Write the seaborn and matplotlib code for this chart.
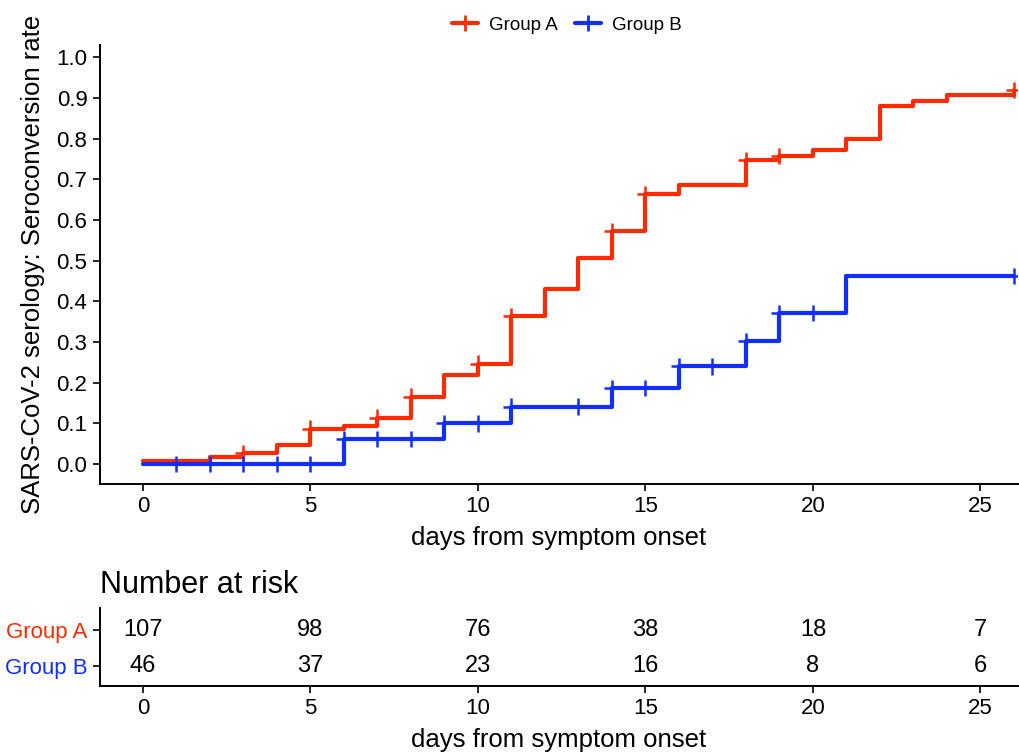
import numpy as np
import pandas as pd
import matplotlib
matplotlib.use("Agg")
import matplotlib.pyplot as plt
from matplotlib.lines import Line2D
import seaborn as sns

# ---------------- data ----------------
groups = ["Group A", "Group B"]
colors = ["#FF2A00", "#0F2EFF"]

time_a = [0, 2, 3, 4, 5, 6, 7, 8, 9, 10, 11, 12, 13, 14, 15, 16, 18, 19, 20, 21, 22, 23, 24, 26]
rate_a = [0.007, 0.018, 0.026, 0.047, 0.087, 0.094, 0.114, 0.166, 0.220, 0.247, 0.364, 0.430,
          0.506, 0.572, 0.663, 0.686, 0.747, 0.757, 0.773, 0.799, 0.880, 0.892, 0.907, 0.919]
cens_a = [3, 5, 7, 8, 10, 11, 14, 15, 18, 19, 26]

time_b = [0, 6, 9, 11, 14, 16, 18, 19, 21, 26]
rate_b = [0.0, 0.061, 0.100, 0.141, 0.187, 0.240, 0.302, 0.371, 0.462, 0.462]
cens_b = [1, 2, 3, 4, 5, 6, 7, 8, 9, 10, 11, 13, 14, 15, 16, 17, 18, 19, 20, 26]

risk_times = [0, 5, 10, 15, 20, 25]
risk_a = [107, 98, 76, 38, 18, 7]
risk_b = [46, 37, 23, 16, 8, 6]

y_ticks = [0.0, 0.1, 0.2, 0.3, 0.4, 0.5, 0.6, 0.7, 0.8, 0.9, 1.0]
x_ticks = [0, 5, 10, 15, 20, 25]

# ---------------- style ----------------
sns.set_style("ticks")
plt.rcParams["font.family"] = ["Liberation Sans", "DejaVu Sans"]
plt.rcParams["text.color"] = "black"
plt.rcParams["axes.labelcolor"] = "black"
plt.rcParams["xtick.color"] = "black"
plt.rcParams["ytick.color"] = "black"
plt.rcParams["axes.edgecolor"] = "black"

W, H = 1020, 752
fig = plt.figure(figsize=(W / 100, H / 100), dpi=100)


def box(l, t, r, b):
    return [l / W, 1 - b / H, (r - l) / W, (b - t) / H]


ax = fig.add_axes(box(100, 45, 1018, 484))
axr = fig.add_axes(box(100, 608, 1018, 686))

curve = pd.concat([
    pd.DataFrame({"time": time_a, "rate": rate_a, "group": groups[0]}),
    pd.DataFrame({"time": time_b, "rate": rate_b, "group": groups[1]}),
])


def step_value(times, rates, t):
    idx = np.searchsorted(times, t, side="right") - 1
    return rates[idx]


cens = pd.concat([
    pd.DataFrame({"time": cens_a,
                  "rate": [step_value(time_a, rate_a, t) for t in cens_a],
                  "group": groups[0]}),
    pd.DataFrame({"time": cens_b,
                  "rate": [step_value(time_b, rate_b, t) for t in cens_b],
                  "group": groups[1]}),
])

pal = dict(zip(groups, colors))
sns.lineplot(data=curve, x="time", y="rate", hue="group", palette=pal,
             drawstyle="steps-post", linewidth=3, estimator=None,
             legend=False, ax=ax)
sns.scatterplot(data=cens, x="time", y="rate", hue="group", palette=pal,
                marker="+", s=140, linewidth=1.8, legend=False, ax=ax, zorder=3)

ax.set_xlim(-1.28, 26.12)
ax.set_ylim(-0.049, 1.03)
ax.set_yticks(y_ticks)
ax.set_yticklabels([f"{v:.1f}" for v in y_ticks])
ax.set_xticks(x_ticks)
ax.set_xlabel("days from symptom onset", fontsize=18.5, labelpad=6, color="black")
ax.set_ylabel("SARS-CoV-2 serology: Seroconversion rate", fontsize=18.5,
              labelpad=8, color="black")
for a in (ax, axr):
    sns.despine(ax=a)
    a.tick_params(direction="out", length=5, width=1.2, colors="black",
                  labelcolor="black", labelsize=16, pad=4)
    for s in ("left", "bottom"):
        a.spines[s].set_linewidth(1.4)
        a.spines[s].set_color("black")

handles = [Line2D([0], [0], color=c, lw=3, marker="+", markersize=12, mew=2)
           for c in colors]
fig.legend(handles, groups, loc="center", bbox_to_anchor=(567 / W, 1 - 25 / H),
           ncol=2, frameon=False, fontsize=13.5, handlelength=1.4,
           handletextpad=0.6, columnspacing=0.9, labelcolor="black")

# ---------------- risk table ----------------
axr.set_xlim(-1.28, 26.12)
axr.set_ylim(-0.55, 1.6)
for t, n in zip(risk_times, risk_a):
    axr.text(t, 1, str(n), ha="center", va="center", fontsize=17, color="black")
for t, n in zip(risk_times, risk_b):
    axr.text(t, 0, str(n), ha="center", va="center", fontsize=17, color="black")
axr.set_yticks([1, 0])
axr.set_yticklabels(groups)
axr.set_xticks(x_ticks)
axr.set_xlabel("days from symptom onset", fontsize=18.5, labelpad=6, color="black")
axr.set_ylabel("")
axr.tick_params(axis="y", labelsize=16)
for lab, c in zip(axr.get_yticklabels(), colors):
    lab.set_color(c)
fig.text(100 / W, 1 - 593 / H, "Number at risk", fontsize=22, ha="left",
         va="baseline", color="black")

fig.savefig("out.png", dpi=100)
